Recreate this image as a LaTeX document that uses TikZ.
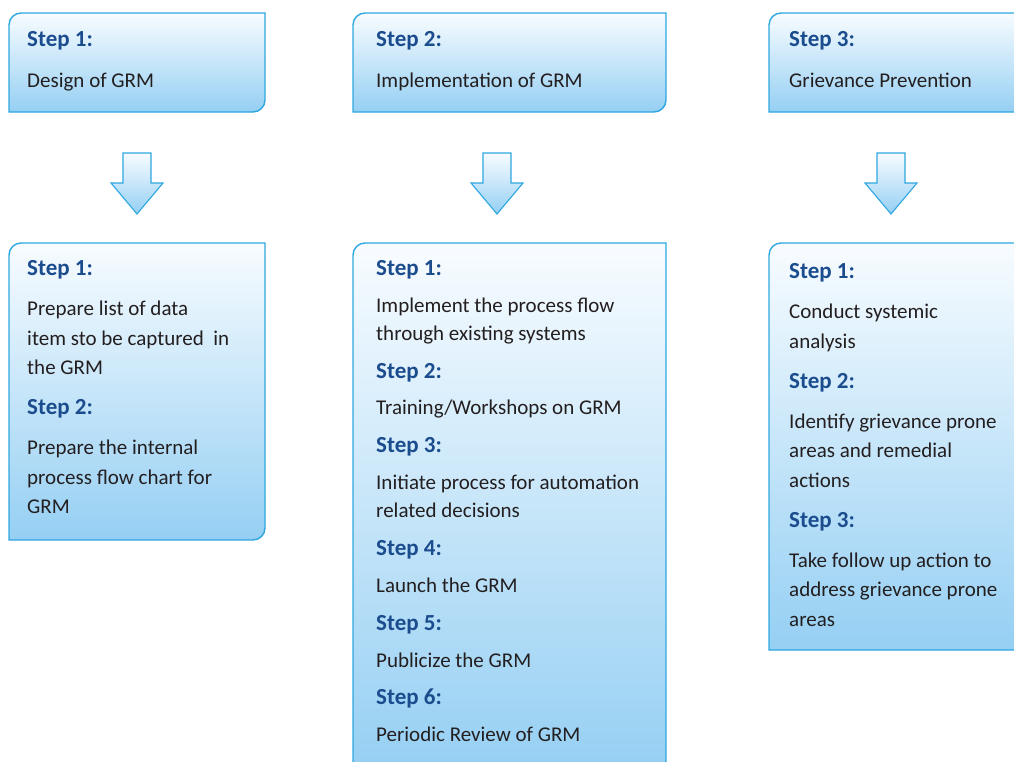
\documentclass[tikz,border=0pt]{standalone}
\usepackage{fontspec}
\setmainfont{Carlito}
\usepackage{tikz}
\usetikzlibrary{calc,positioning}
\usepackage{xcolor}

\definecolor{boxline}{HTML}{2EA7E0}
\definecolor{boxtop}{HTML}{F8FCFF}
\definecolor{boxbot}{HTML}{95CFF3}
\definecolor{stepblue}{HTML}{1B4C8E}
\definecolor{bodyblack}{HTML}{231F20}

% box with rounded top-left and bottom-right corners
\newcommand{\grmframe}[1]{%
  \shadedraw[boxfill] (#1.south west) -- ($(#1.north west)+(0,-12)$)
    arc[start angle=180, end angle=90, radius=12pt] -- (#1.north east)
    -- ($(#1.south east)+(0,12)$)
    arc[start angle=0, end angle=-90, radius=12pt] -- cycle;}

% hollow-looking block arrow pointing down
\newcommand{\grmarrow}[1]{%
  \shadedraw[arrowfill] ($(#1)+(-14,0)$) -- ($(#1)+(14,0)$) -- ($(#1)+(14,-30)$)
    -- ($(#1)+(26,-30)$) -- ($(#1)+(0,-61)$) -- ($(#1)+(-26,-30)$)
    -- ($(#1)+(-14,-30)$) -- cycle;}

\newcommand{\stp}[1]{{\fontsize{23}{29.5}\selectfont\bfseries\color{stepblue}Step #1:}}

\begin{document}
\begin{tikzpicture}[
  x=1pt, y=1pt,
  boxshape/.style={anchor=north west, inner sep=0pt, outer sep=0pt},
  boxfill/.style={top color=boxtop, bottom color=boxbot, draw=boxline, line width=1.4pt},
  arrowfill/.style={top color=boxtop, bottom color=boxbot, draw=boxline, line width=1.1pt, line join=miter},
  steptext/.style={anchor=north west, align=left, inner sep=0pt, text=bodyblack,
    font=\fontsize{21}{29.5}\selectfont},
  steptight/.style={steptext, font=\fontsize{21}{28.3}\selectfont}
]

\useasboundingbox (0,0) rectangle (1014,-761);
\clip (0,0) rectangle (1014,-761);

\def\xA{9}
\def\xB{353}
\def\xC{769}
\def\yTop{-13}
\def\yLow{-243}

% ------------------------
% Top row
% ------------------------
\node[boxshape, minimum width=256pt, minimum height=99pt] (design) at (\xA,\yTop) {};
\node[boxshape, minimum width=313pt, minimum height=99pt] (impl)   at (\xB,\yTop) {};
\node[boxshape, minimum width=280pt, minimum height=99pt] (prev)   at (\xC,\yTop) {};
\grmframe{design}
\grmframe{impl}
\grmframe{prev}

\node[steptext] (designTxt) at ($(design.north west)+(18,-18.7)$)
  {\stp{1}\\[11pt] Design of GRM};
\node[steptext] (implTxt) at ($(impl.north west)+(23,-18.7)$)
  {\stp{2}\\[11pt] Implementation of GRM};
\node[steptext] (prevTxt) at ($(prev.north west)+(20,-18.7)$)
  {\stp{3}\\[11pt] Grievance Prevention};

% Arrows
\coordinate (designArrow) at (137,-153);
\coordinate (implArrow)   at (497,-153);
\coordinate (prevArrow)   at (891,-153);
\grmarrow{designArrow}
\grmarrow{implArrow}
\grmarrow{prevArrow}

% ------------------------
% Bottom row
% ------------------------
\node[boxshape, minimum width=256pt, minimum height=297pt] (designSteps) at (\xA,\yLow) {};
\node[boxshape, minimum width=313pt, minimum height=530pt] (implSteps)   at (\xB,\yLow) {};
\node[boxshape, minimum width=280pt, minimum height=407pt] (prevSteps)   at (\xC,\yLow) {};
\grmframe{designSteps}
\grmframe{implSteps}
\grmframe{prevSteps}

\node[steptext] (designStepsTxt) at ($(designSteps.north west)+(18,-17.5)$)
  {\stp{1}\\[10.5pt]
   Prepare list of data\\
   item sto be captured\ \ in\\
   the GRM\\[10.5pt]
   \stp{2}\\[10.5pt]
   Prepare the internal\\
   process flow chart for\\
   GRM};

\node[steptight] (implStepsTxt) at ($(implSteps.north west)+(23,-17)$)
  {\stp{1}\\[8.5pt]
   Implement the process flow\\
   through existing systems\\[9.5pt]
   \stp{2}\\[8.5pt]
   Training/Workshops on GRM\\[9.5pt]
   \stp{3}\\[8.5pt]
   Initiate process for automation\\
   related decisions\\[9.5pt]
   \stp{4}\\[8.5pt]
   Launch the GRM\\[9.5pt]
   \stp{5}\\[8.5pt]
   Publicize the GRM\\[9.5pt]
   \stp{6}\\[8.5pt]
   Periodic Review of GRM};

\node[steptext] (prevStepsTxt) at ($(prevSteps.north west)+(20,-20.5)$)
  {\stp{1}\\[10.5pt]
   Conduct systemic\\
   analysis\\[10.5pt]
   \stp{2}\\[10.5pt]
   Identify grievance prone\\
   areas and remedial\\
   actions\\[10.5pt]
   \stp{3}\\[10.5pt]
   Take follow up action to\\
   address grievance prone\\
   areas};

\end{tikzpicture}
\end{document}
